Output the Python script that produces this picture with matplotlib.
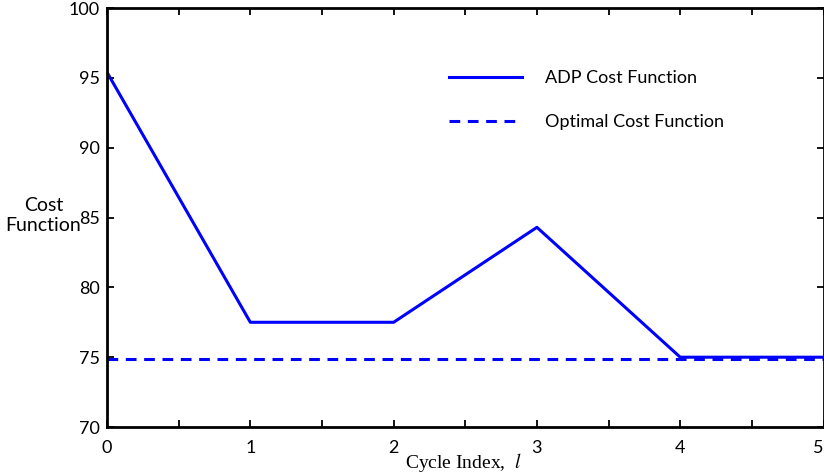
import numpy as np
import matplotlib
matplotlib.use("Agg")
import matplotlib.pyplot as plt
from matplotlib.ticker import MultipleLocator

# datos
ciclo = [0, 1, 2, 3, 4, 5]
costo_adp = [95.4, 77.5, 77.5, 84.3, 75.0, 75.0]
costo_optimo = [74.9, 74.9, 74.9, 74.9, 74.9, 74.9]

plt.rcParams['font.family'] = ['Lato', 'DejaVu Sans']
plt.rcParams['mathtext.fontset'] = 'stix'

fig = plt.figure(figsize=(8.24, 4.75), dpi=100)
ax = fig.add_axes([0.1299, 0.101, 0.8695, 0.882])

ax.plot(ciclo, costo_adp, color='#0000ff', lw=2.2, label='ADP Cost Function')
ax.plot(ciclo, costo_optimo, color='#0000ff', lw=2.2, ls=(0, (3.5, 2.5)),
        label='Optimal Cost Function')

ax.set_xlim(0, 5)
ax.set_ylim(70, 100)
ax.set_xticks(ciclo)
ax.xaxis.set_minor_locator(MultipleLocator(0.5))
ax.yaxis.set_major_locator(MultipleLocator(5))

ax.tick_params(which='both', direction='in', top=True, right=True,
               width=1.3, labelsize=13)
ax.tick_params(which='major', length=5)
ax.tick_params(which='minor', length=5)
ax.tick_params(axis='x', pad=9)
ax.tick_params(axis='y', pad=5)
for s in ax.spines.values():
    s.set_linewidth(2)

ax.set_xlabel('Cycle Index,  $l$', family='Liberation Serif', fontsize=14)
ax.xaxis.set_label_coords(0.497, -0.058)
ax.set_ylabel('Cost\nFunction', rotation=0, fontsize=14, ha='center', va='center')
ax.yaxis.set_label_coords(-0.089, 0.505)

ax.legend(loc='upper left', bbox_to_anchor=(0.455, 0.89), frameon=False,
          fontsize=13, handlelength=4.0, handletextpad=1.3, labelspacing=1.55)

# el 5 queda en el borde, alinearlo a la derecha
fig.canvas.draw()
ax.xaxis.get_major_ticks()[-1].label1.set_horizontalalignment('right')

fig.savefig('out.png', dpi=100)
